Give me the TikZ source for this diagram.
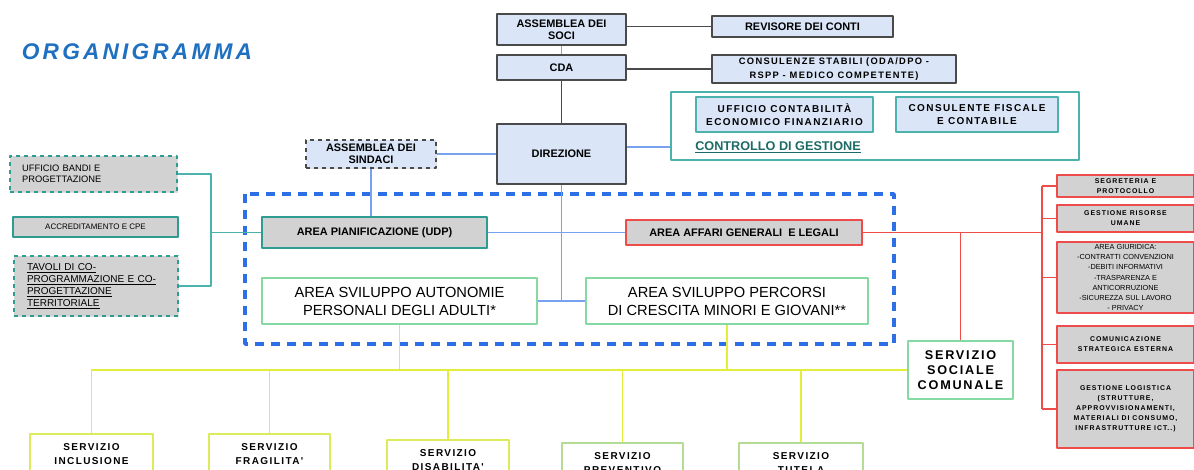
\documentclass[tikz,border=0pt]{standalone}
\usepackage{fontspec}
\setmainfont{Liberation Sans}
\newfontfamily\spacedfont[LetterSpace=14]{Liberation Sans}
\usetikzlibrary{shadows}
\definecolor{cellblue}{HTML}{DAE6F8}
\definecolor{cellline}{HTML}{4A4A4A}
\definecolor{cellgray}{HTML}{D2D2D2}
\definecolor{tealline}{HTML}{4BB2AE}
\definecolor{tealdark}{HTML}{2E9C90}
\definecolor{tealtext}{HTML}{1D6B66}
\definecolor{redline}{HTML}{EE4B4B}
\definecolor{greenline}{HTML}{86D9A2}
\definecolor{yelline}{HTML}{E4EE3A}
\definecolor{yelbox}{HTML}{DCEB5A}
\definecolor{leafbox}{HTML}{B4DC94}
\definecolor{dashblue}{HTML}{2E6EE6}
\definecolor{linkblue}{HTML}{78A2F0}
\definecolor{titleblue}{HTML}{1F70C1}
\tikzset{
  shade/.style={drop shadow={shadow xshift=0.9pt,shadow yshift=-0.9pt,opacity=.25}},
  cell/.style={draw=cellline,fill=cellblue,line width=1.2pt,align=center,inner sep=1pt,
    font=\bfseries\fontsize{8.2}{9}\selectfont,shade},
  tealcell/.style={draw=tealline,fill=cellblue,line width=1.3pt,align=center,inner sep=1pt,
    font=\spacedfont\bfseries\fontsize{7.5}{10}\selectfont,shade},
  graycell/.style={draw=#1,fill=cellgray,line width=1.3pt,align=center,inner sep=1pt,
    font=\bfseries\fontsize{8.2}{9}\selectfont,shade},
  leftcell/.style={draw=tealdark,fill=cellgray,line width=1.3pt,align=left,inner sep=1pt,shade},
  areabox/.style={draw=greenline,fill=white,line width=1.1pt,align=center,inner sep=1pt,
    font=\fontsize{11}{13.5}\selectfont},
  sidecell/.style={draw=redline,fill=cellgray,line width=1.3pt,align=center,inner sep=1pt,
    minimum width=102.75pt,font=\spacedfont\bfseries\fontsize{5.2}{7.5}\selectfont,shade},
  servbox/.style={draw=#1,fill=white,line width=1.3pt,anchor=north,align=center,inner ysep=7.5pt,
    text depth=25pt,font=\spacedfont\bfseries\fontsize{7.5}{10.5}\selectfont,shade},
  blueline/.style={draw=linkblue,line width=1pt},
  darkline/.style={draw=cellline,line width=1pt},
  tealbus/.style={draw=tealline,line width=1pt},
  redbus/.style={draw=redline,line width=1pt},
  yelbus/.style={draw=yelline,line width=1.1pt},
}
\begin{document}
\begin{tikzpicture}[x=0.75pt,y=-0.75pt,line join=round]
\useasboundingbox (0,0) rectangle (1194,469);
\clip (0,0) rectangle (1194,469);
\node[text=titleblue,font=\spacedfont\bfseries\itshape\fontsize{17}{20}\selectfont] (title) at (137,52) {ORGANIGRAMMA};

% vertice
\node[cell,minimum width=96.75pt,minimum height=23.25pt] (soci) at (561.5,29.5) {ASSEMBLEA DEI\\SOCI};
\node[cell,minimum width=135.75pt,minimum height=15.75pt] (revisore) at (802.5,26.5) {REVISORE DEI CONTI};
\node[cell,minimum width=96.75pt,minimum height=18.75pt] (cda) at (561.5,67.5) {CDA};
\node[cell,minimum width=183pt,minimum height=21pt,font=\spacedfont\bfseries\fontsize{7}{10}\selectfont] (consulenze) at (834,69) {CONSULENZE STABILI (ODA/DPO -\\RSPP - MEDICO COMPETENTE)};
\node[cell,minimum width=96.75pt,minimum height=45pt] (direzione) at (561.5,154) {DIREZIONE};
\node[cell,dashed,line width=0.9pt,minimum width=97.5pt,minimum height=21pt] (sindaci) at (371,154) {ASSEMBLEA DEI\\SINDACI};

% controllo di gestione
\node[draw=tealline,line width=1.2pt,fill=white,minimum width=306pt,minimum height=51pt] (ctrl) at (875,126) {};
\node[tealcell,minimum width=132.75pt,minimum height=26.25pt] (contab) at (784.5,114.5) {UFFICIO CONTABILITÀ\\ECONOMICO FINANZIARIO};
\node[tealcell,minimum width=121.5pt,minimum height=26.25pt] (fiscale) at (977,114.5) {CONSULENTE FISCALE\\E CONTABILE};
\node[text=tealtext,font=\bfseries\fontsize{9.5}{11}\selectfont,inner sep=0pt] (ctrltxt) at (778,147) {\underline{CONTROLLO DI GESTIONE}};

% aree
\draw[draw=dashblue,line width=2.6pt,dash pattern=on 7pt off 5pt] (245,194) rectangle (894,344);
\node[graycell=tealdark,minimum width=168.75pt,minimum height=23.25pt] (pian) at (374.5,232.5) {AREA PIANIFICAZIONE (UDP)};
\node[graycell=redline,minimum width=177pt,minimum height=18.75pt] (affari) at (744,232.5) {AREA AFFARI GENERALI\ \ E LEGALI};
\node[areabox,minimum width=206.25pt,minimum height=34.5pt] (autonomie) at (399.5,301) {AREA SVILUPPO AUTONOMIE\\PERSONALI DEGLI ADULTI*};
\node[areabox,minimum width=211.5pt,minimum height=34.5pt] (percorsi) at (727,301) {AREA SVILUPPO PERCORSI\\DI CRESCITA MINORI E GIOVANI**};

% pianificazione
\node[leftcell,dashed,minimum width=125.25pt,minimum height=27pt,text width=107pt,inner xsep=9pt,
  font=\fontsize{7}{8.25}\selectfont] (bandi) at (93.5,174) {UFFICIO BANDI E\\PROGETTAZIONE};
\node[leftcell,align=center,minimum width=123.75pt,minimum height=15pt,
  font=\fontsize{6}{7}\selectfont] (accred) at (95.5,227) {ACCREDITAMENTO E CPE};
\node[leftcell,dashed,minimum width=123pt,minimum height=45pt,text width=103.5pt,inner xsep=9.75pt,
  font=\fontsize{7.5}{9}\selectfont] (tavoli) at (96,286) {\underline{TAVOLI DI CO-}\\\underline{PROGRAMMAZIONE E CO-}\\\underline{PROGETTAZIONE}\\\underline{TERRITORIALE}};

% affari generali
\node[sidecell,minimum height=16.5pt] (segr) at (1125.5,186) {SEGRETERIA E\\PROTOCOLLO};
\node[sidecell,minimum height=20.25pt] (risorse) at (1125.5,218.5) {GESTIONE RISORSE\\UMANE};
\node[sidecell,minimum height=53.25pt,font=\fontsize{5.5}{7.6}\selectfont] (giur) at (1125.5,277.5) {AREA GIURIDICA:\\-CONTRATTI CONVENZIONI\\-DEBITI INFORMATIVI\\-TRASPARENZA E\\ANTICORRUZIONE\\-SICUREZZA SUL LAVORO\\- PRIVACY};
\node[sidecell,minimum height=27.75pt] (comun) at (1125.5,344.5) {COMUNICAZIONE\\STRATEGICA ESTERNA};
\node[sidecell,minimum height=58.5pt] (logist) at (1125.5,409) {GESTIONE LOGISTICA\\(STRUTTURE,\\APPROVVISIONAMENTI,\\MATERIALI DI CONSUMO,\\INFRASTRUTTURE ICT..)};

% servizi
\node[draw=greenline,line width=1.2pt,fill=white,align=center,minimum width=78.75pt,minimum height=43.5pt,
  font=\spacedfont\bfseries\fontsize{9.5}{11.25}\selectfont] (sociale) at (960.5,370) {SERVIZIO\\SOCIALE\\COMUNALE};
\node[servbox=yelbox,minimum width=92.25pt] (inclusione) at (91.5,433) {SERVIZIO\\INCLUSIONE};
\node[servbox=yelbox,minimum width=90.75pt] (fragilita) at (269.5,433) {SERVIZIO\\FRAGILITA'};
\node[servbox=yelbox,minimum width=91.5pt] (disabilita) at (448,439) {SERVIZIO\\DISABILITA'};
\node[servbox=leafbox,minimum width=90.75pt] (preventivo) at (622.5,442) {SERVIZIO\\PREVENTIVO};
\node[servbox=leafbox,minimum width=93pt] (tutela) at (801,442) {SERVIZIO\\TUTELA};

% collegamenti
\draw[darkline] (soci.east |- revisore.west) -- (revisore.west);
\draw[darkline] (cda.east |- consulenze.west) -- (consulenze.west);
\draw[blueline] (soci.south) -- (cda.north);
\draw[darkline] (cda.south) -- (direzione.north);
\draw[blueline] (direzione.east |- ctrltxt) -- (ctrl.west |- ctrltxt);
\draw[blueline] (sindaci.east) -- (direzione.west);
\draw[blueline] (sindaci.south) -- (sindaci.south |- pian.north);
\draw[blueline] (pian.east) -- (affari.west);
\draw[blueline] (direzione.south) -- (direzione.south |- autonomie.east);
\draw[blueline] (autonomie.east) -- (percorsi.west);

\coordinate (tbus) at (211,232.5);
\draw[tealbus] (bandi.east) -| (tbus) |- (tavoli.east);
\draw[tealbus] (tbus) -- (pian.west);

\coordinate (rbus) at (1042,232.5);
\draw[redbus] (affari.east) -- (rbus);
\draw[redbus] (segr.west -| rbus) -- (logist.west -| rbus);
\foreach \n in {segr,risorse,giur,comun,logist}
  \draw[redbus] (\n.west -| rbus) -- (\n.west);
\draw[redbus] (sociale.north) -- (sociale.north |- rbus);

\draw[yelbus] (sociale.west) -| (inclusione.north);
\draw[yelbus] (autonomie.south) -- (autonomie.south |- sociale.west);
\draw[yelbus] (percorsi.south) -- (percorsi.south |- sociale.west);
\foreach \n in {fragilita,disabilita,preventivo,tutela}
  \draw[yelbus] (\n.north |- sociale.west) -- (\n.north);
\end{tikzpicture}
\end{document}
